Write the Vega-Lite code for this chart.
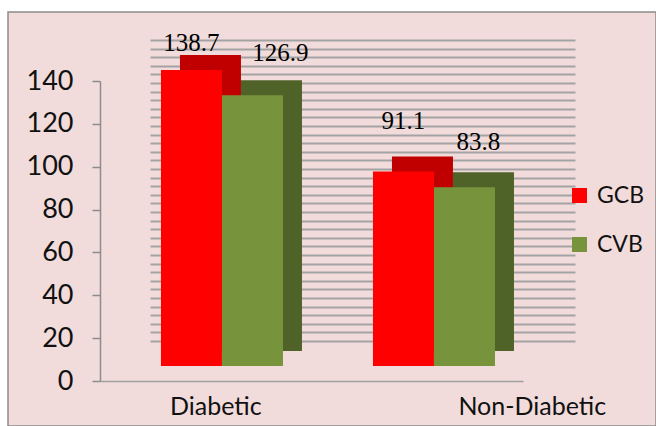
{
  "$schema": "https://vega.github.io/schema/vega-lite/v6.json",
  "width": 648,
  "height": 414,
  "autosize": {"type": "none"},
  "padding": {"left": 8, "top": 12, "right": 0, "bottom": 0},
  "background": "#ffffff",
  "config": {
    "view": {"fill": "#f2dcdb", "stroke": "#8c8c8c", "strokeWidth": 1.5},
    "font": "Lato"
  },
  "data": {
    "values": [
      {"group": "Diabetic", "series": "GCB", "value": 138.7},
      {"group": "Diabetic", "series": "CVB", "value": 126.9},
      {"group": "Non-Diabetic", "series": "GCB", "value": 91.1},
      {"group": "Non-Diabetic", "series": "CVB", "value": 83.8}
    ]
  },
  "layer": [
    {
      "mark": {"type": "bar", "opacity": 0},
      "encoding": {
        "x": {"field": "group", "type": "nominal", "sort": ["Diabetic", "Non-Diabetic"],
              "scale": {"range": [142, 567], "paddingInner": 0, "paddingOuter": 0}, "axis": null},
        "y": {"field": "value", "type": "quantitative",
              "scale": {"domain": [0, 140], "range": [329, 28], "nice": false, "zero": true},
              "axis": {"orient": "left", "grid": true, "gridColor": "#a3a3a3", "gridWidth": 2,
                       "values": [0,4,8,12,16,20,24,28,32,36,40,44,48,52,56,60,64,68,72,76,80,84,88,92,96,100,104,108,112,116,120,124,128,132,136,140],
                       "labels": false, "ticks": false, "domain": false, "title": null}}
      }
    },
    {
      "mark": {"type": "bar", "opacity": 0},
      "encoding": {
        "x": {"field": "group", "type": "nominal", "sort": ["Diabetic", "Non-Diabetic"],
              "scale": {"range": [92, 515], "paddingInner": 0, "paddingOuter": 0},
              "axis": {"orient": "bottom", "offset": -45, "title": null, "ticks": false,
                       "domainColor": "#a0a0a0", "domainWidth": 1.5, "labelFont": "Lato",
                       "labelFontSize": 25, "labelColor": "#111111", "labelPadding": 13, "labelAngle": 0,
                       "labelOffset": {"condition": {"test": "datum.value === 'Diabetic'", "value": 10}, "value": 115}}},
        "y": {"field": "value", "type": "quantitative",
              "scale": {"domain": [0, 140], "range": [369, 69], "nice": false, "zero": true},
              "axis": {"orient": "left", "offset": -92, "values": [0,20,40,60,80,100,120,140],
                       "grid": false, "title": null, "tickSize": 8, "tickColor": "#8c8c8c", "tickWidth": 1.5,
                       "domainColor": "#8c8c8c", "domainWidth": 1.5, "labelFont": "Lato",
                       "labelFontSize": 27, "labelPadding": 19, "labelColor": "#111111"}}
      }
    },
    {
      "mark": {"type": "bar"},
      "encoding": {
        "x": {"field": "group", "type": "nominal", "sort": ["Diabetic", "Non-Diabetic"],
              "scale": {"range": [111, 536], "paddingInner": 0.4245, "paddingOuter": 0.2146, "align": 0.67}, "axis": null},
        "xOffset": {"field": "series", "type": "nominal", "sort": ["GCB", "CVB"],
                    "scale": {"domain": ["GCB", "CVB"], "paddingInner": 0, "paddingOuter": 0}},
        "y": {"field": "value", "type": "quantitative",
              "scale": {"domain": [0, 140], "range": [339, 40.2], "nice": false, "zero": true}, "axis": null},
        "color": {"condition": {"test": "datum.series === 'GCB'", "value": "#c00000"}, "value": "#4f6228"}
      }
    },
    {
      "encoding": {
        "x": {"field": "group", "type": "nominal", "sort": ["Diabetic", "Non-Diabetic"],
              "scale": {"range": [92, 517], "paddingInner": 0.4245, "paddingOuter": 0.2146, "align": 0.67}, "axis": null},
        "xOffset": {"field": "series", "type": "nominal", "sort": ["GCB", "CVB"],
                    "scale": {"domain": ["GCB", "CVB"], "paddingInner": 0, "paddingOuter": 0}},
        "y": {"field": "value", "type": "quantitative",
              "scale": {"domain": [0, 140], "range": [354, 55.2], "nice": false, "zero": true}, "axis": null}
      },
      "layer": [
        {
          "mark": {"type": "bar"},
          "encoding": {
            "color": {"field": "series", "type": "nominal", "sort": ["GCB", "CVB"],
                      "scale": {"domain": ["GCB", "CVB"], "range": ["#ff0000", "#77933c"]},
                      "legend": {"title": null, "orient": "none", "legendX": 560, "legendY": 172,
                                 "symbolType": "square", "symbolSize": 225, "symbolStrokeWidth": 0,
                                 "labelFont": "Lato", "labelFontSize": 23, "labelColor": "#111111",
                                 "rowPadding": 25, "labelOffset": 6, "padding": 0}}
          }
        },
        {
          "mark": {"type": "text", "font": "Liberation Serif", "fontSize": 25, "color": "#000000",
                   "dx": {"expr": "datum.series === 'CVB' ? (datum.group === 'Diabetic' ? 28 : 14) : 0"},
                   "dy": {"expr": "datum.series === 'GCB' ? (datum.group === 'Diabetic' ? -27 : -51) : (datum.group === 'Diabetic' ? -42 : -45)"}},
          "encoding": {
            "text": {"field": "value", "type": "quantitative", "format": ".1f"}
          }
        }
      ]
    }
  ],
  "resolve": {
    "scale": {"x": "independent", "y": "independent", "xOffset": "independent"},
    "axis": {"x": "independent", "y": "independent"}
  }
}
